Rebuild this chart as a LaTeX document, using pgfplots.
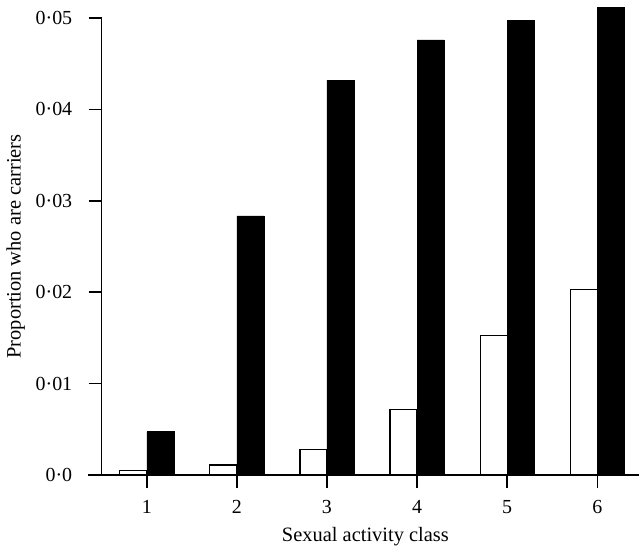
\documentclass[border=0pt]{standalone}
\usepackage{pgfplots}
\pgfplotsset{compat=1.18}
\usepackage{fontspec}
\setmainfont{Liberation Serif}
\begin{document}
\begin{tikzpicture}
\useasboundingbox (-101.7bp,-71bp) rectangle (537.3bp,475bp);
\begin{axis}[
  at={(0,0)}, anchor=origin,
  scale only axis, width=537bp, height=457bp,
  xmin=0.5, xmax=6.46, ymin=0, ymax=0.05,
  axis x line=bottom, axis y line=left,
  axis line style={line width=1.5bp, -},
  xtick={1,2,3,4,5,6}, xticklabels={1,2,3,4,5,6},
  ytick={0,0.01,0.02,0.03,0.04,0.05},
  yticklabels={0·0,0·01,0·02,0·03,0·04,0·05},
  tick align=outside, major tick length=13bp,
  tick style={line width=1.5bp, black},
  every tick label/.append style={font=\fontsize{20}{24}\selectfont},
  xticklabel style={yshift=-9bp},
  yticklabel style={xshift=-13bp},
  xlabel={Sexual activity class},
  ylabel={Proportion who are carriers},
  xlabel style={font=\fontsize{20.5}{24}\selectfont, at={(axis description cs:0.491,-0.135)}, anchor=center},
  ylabel style={font=\fontsize{20.5}{24}\selectfont, at={(axis description cs:-0.160,0.5)}, anchor=center},
  clip=false,
  scaled y ticks=false,
]
\addplot[ybar, bar width=0.3, bar shift=-0.15, draw=black, line width=1.2bp, fill=white]
  coordinates {(1,0.00047) (2,0.0011) (3,0.0028) (4,0.0072) (5,0.01524) (6,0.0203)};
\addplot[ybar, bar width=0.3, bar shift=0.15, draw=black, fill=black]
  coordinates {(1,0.00474) (2,0.02834) (3,0.0432) (4,0.0476) (5,0.04975) (6,0.0512)};
\draw[line width=1.5bp] (axis cs:0.35,0) -- (axis cs:0.5,0);
\end{axis}
\end{tikzpicture}
\end{document}
